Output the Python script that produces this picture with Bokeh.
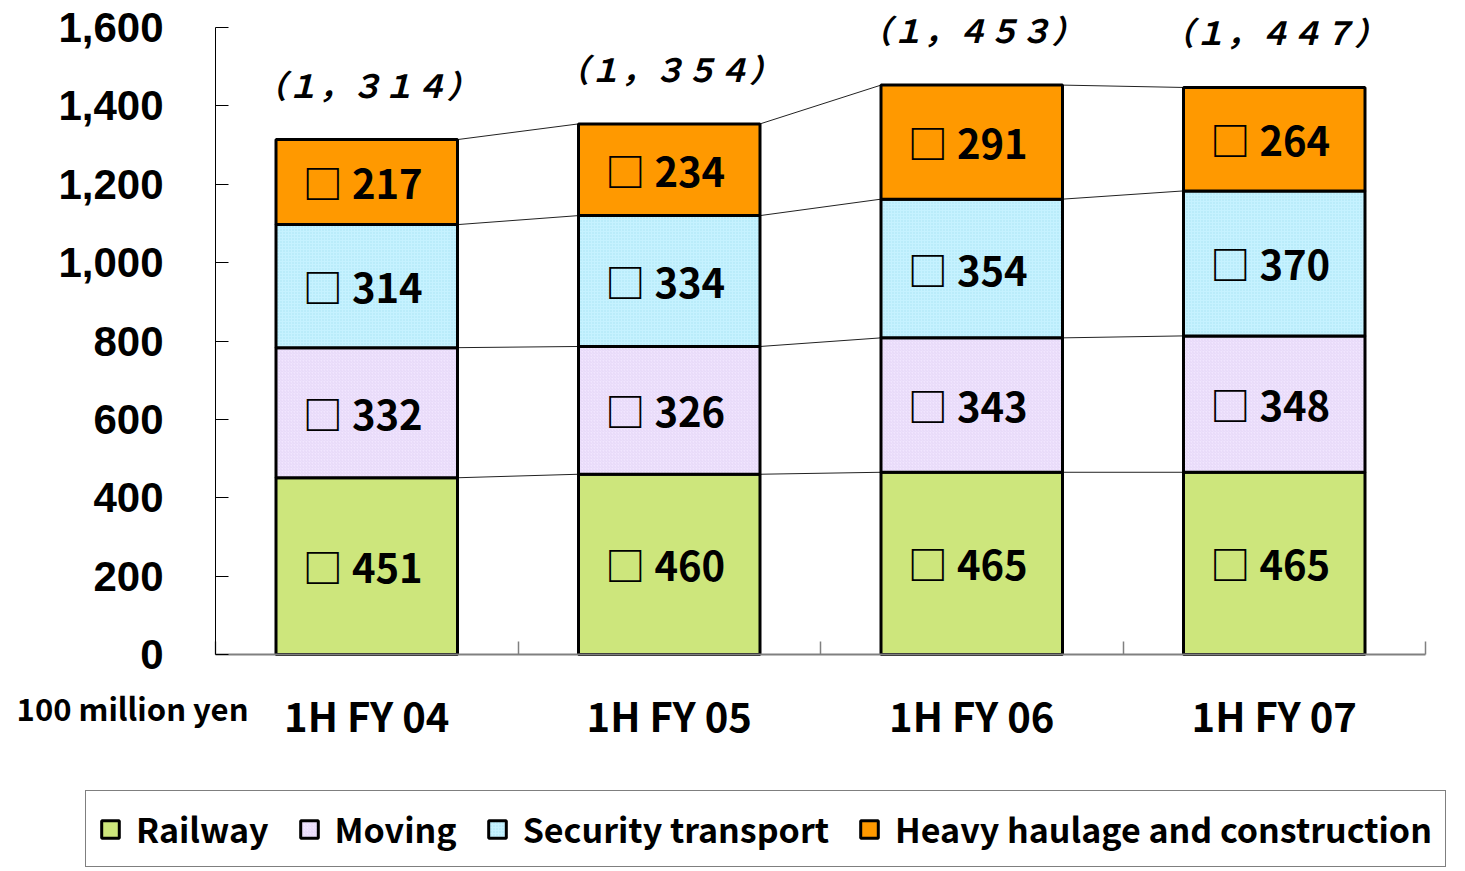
from bokeh.plotting import figure
from bokeh.models import (ColumnDataSource, Range1d, FixedTicker, LabelSet, Label,
                          Legend, LegendItem, NumeralTickFormatter)
from bokeh.embed import file_html
from bokeh.resources import INLINE
from bokeh.core.properties import value

# ---------------- data ----------------
categories = ["1H FY 04", "1H FY 05", "1H FY 06", "1H FY 07"]
series = ["Railway", "Moving", "Security transport", "Heavy haulage and construction"]
railway = [451, 460, 465, 465]
moving = [332, 326, 343, 348]
security = [314, 334, 354, 370]
heavy = [217, 234, 291, 264]
y_ticks = [0, 200, 400, 600, 800, 1000, 1200, 1400, 1600]
unit_label = "100 million yen"

# ---------------- styles / layout ----------------
FONT = "Noto Sans CJK JP"
fills = ["#CDE67C", "#F1E6FF", "#C6F2FF", "#FF9900"]
hatch_patterns = ["v_line", "right_diagonal_line", "dot", " "]
hatch_colors = ["#B4CF62", "#E6D8F7", "#A6E2F2", "#FF9900"]
bar_w = 0.6
W, H = 1462, 869
AX_LEFT, AX_RIGHT, AX_TOP, AX_ZERO = 215, 1425, 27, 654   # pixel targets of the axes box

values = [railway, moving, security, heavy]
n = len(categories)
xs = [i + 0.5 for i in range(n)]

# ranges so that the plotting box sits where the axes of the reference are,
# while the frame covers the whole canvas (so texts outside the axes box are not clipped)
px_x = (AX_RIGHT - AX_LEFT) / n
px_y = (AX_ZERO - AX_TOP) / y_ticks[-1]
x_range = Range1d(-AX_LEFT / px_x, n + (W - AX_RIGHT) / px_x)
y_range = Range1d(-(H - AX_ZERO) / px_y, y_ticks[-1] + AX_TOP / px_y)

data = {"x": xs}
for s, v in zip(series, values):
    data[s] = v
src = ColumnDataSource(data)

p = figure(width=W, height=H, output_backend="svg", toolbar_location=None,
           x_range=x_range, y_range=y_range,
           min_border_left=0, min_border_right=0, min_border_top=0, min_border_bottom=0)
p.outline_line_color = None
p.grid.visible = False
p.background_fill_color = "white"
p.border_fill_color = "white"

# connector lines between stacked segments
tops = []
acc = [0] * n
for v in values:
    acc = [a + b for a, b in zip(acc, v)]
    tops.append(list(acc))
cx0, cx1, cy0, cy1 = [], [], [], []
for t in tops:
    for i in range(n - 1):
        cx0.append(xs[i] + bar_w / 2)
        cx1.append(xs[i + 1] - bar_w / 2)
        cy0.append(t[i])
        cy1.append(t[i + 1])
p.segment(x0=cx0, y0=cy0, x1=cx1, y1=cy1, line_color="#222222", line_width=1)

renderers = p.vbar_stack(series, x="x", width=bar_w, source=src,
                         fill_color=fills, line_color="black", line_width=3,
                         hatch_pattern=hatch_patterns, hatch_color=hatch_colors,
                         hatch_scale=3, hatch_weight=1)

# segment labels
lx, ly, lt = [], [], []
prev = [0] * n
for v, t in zip(values, tops):
    for i in range(n):
        lx.append(xs[i])
        ly.append((prev[i] + t[i]) / 2)
        lt.append("□ " + str(v[i]))
    prev = t
seg_src = ColumnDataSource(dict(x=lx, y=ly, text=lt))
p.add_layout(LabelSet(x="x", y="y", text="text", source=seg_src, x_offset=-4,
                      text_align="center", text_baseline="middle",
                      text_font=value(FONT), text_font_style="bold",
                      text_font_size="40px", text_color="black"))

# totals
totals = tops[-1]
fw = str.maketrans("0123456789", "０１２３４５６７８９")
tot_text = ["（" + f"{t:,}".replace(",", "，").translate(fw) + "）" for t in totals]
tot_src = ColumnDataSource(dict(x=xs, y=totals, text=tot_text))
p.add_layout(LabelSet(x="x", y="y", text="text", source=tot_src, y_offset=56,
                      text_align="center", text_baseline="middle",
                      text_font=value(FONT), text_font_style="bold italic",
                      text_font_size="32px", text_color="black"))

# axes (drawn at data 0 so they take no border space)
xa = p.xaxis[0]
xa.fixed_location = 0
xa.bounds = (0, n)
xa.ticker = FixedTicker(ticks=xs, minor_ticks=list(range(n + 1)))
xa.major_label_overrides = {x: c for x, c in zip(xs, categories)}
xa.major_tick_line_color = None
xa.major_tick_in = 0
xa.major_tick_out = 0
xa.minor_tick_in = 13
xa.minor_tick_out = 0
xa.minor_tick_line_color = "#808080"
xa.minor_tick_line_width = 1.5
xa.axis_line_color = "#808080"
xa.axis_line_width = 2
xa.major_label_text_font = FONT
xa.major_label_text_font_style = "bold"
xa.major_label_text_font_size = "40px"
xa.major_label_text_color = "black"
xa.major_label_standoff = 31

ya = p.yaxis[0]
ya.fixed_location = 0
ya.bounds = (y_ticks[0], y_ticks[-1])
ya.ticker = FixedTicker(ticks=y_ticks)
ya.formatter = NumeralTickFormatter(format="0,0")
ya.major_tick_in = 13
ya.major_tick_out = 0
ya.minor_tick_line_color = None
ya.axis_line_color = "black"
ya.axis_line_width = 1
ya.major_tick_line_color = "black"
ya.major_label_text_font = "Liberation Sans"
ya.major_label_text_font_style = "bold"
ya.major_label_text_font_size = "42px"
ya.major_label_text_color = "black"
ya.major_label_standoff = 52

# unit label
p.add_layout(Label(x=0, y=0, x_offset=33, y_offset=-53, text=unit_label,
                   text_align="right", text_baseline="middle",
                   text_font=FONT, text_font_style="bold",
                   text_font_size="31px", text_color="black"))

# legend
legend = Legend(items=[LegendItem(label=s, renderers=[r]) for s, r in zip(series, renderers)],
                orientation="horizontal", location=(85, 2),
                label_text_font=FONT, label_text_font_style="bold",
                label_text_font_size="34px", label_text_color="black",
                glyph_width=22, glyph_height=22, label_standoff=15, spacing=29,
                padding=13, margin=0, border_line_color="black", border_line_width=1.5,
                background_fill_color="white", background_fill_alpha=1)
p.add_layout(legend)

open("out.html", "w").write(file_html(p, INLINE))
